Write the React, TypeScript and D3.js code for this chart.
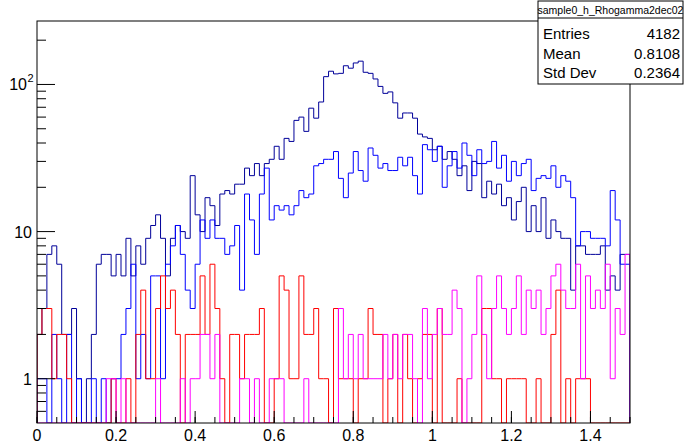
import React from 'react';
import * as d3 from 'd3';

// bin contents, 120 bins from 0 to 1.5
const navyCounts = [
  2, 3, 7, 8, 6, 2, 2, 3, 1, 0, 1, 2, 6, 7, 7, 5, 7, 5, 9, 5,
  8, 6, 9, 11, 13, 9, 5, 9, 11, 10, 9, 24, 13, 10, 17, 15, 11, 18, 19, 18,
  21, 21, 27, 24, 29, 24, 29, 31, 38, 31, 43, 41, 57, 60, 48, 69, 59, 76, 113, 123,
  118, 119, 134, 129, 140, 144, 121, 119, 109, 97, 87, 89, 75, 59, 64, 64, 59, 46, 44, 43,
  36, 38, 31, 35, 31, 24, 28, 19, 30, 29, 17, 22, 18, 21, 15, 17, 12, 16, 20, 10,
  15, 10, 17, 9, 12, 10, 9, 9, 4, 8, 8, 7, 7, 7, 8, 4, 5, 4, 7, 7,
];
const blueCounts = [
  1, 1, 0, 2, 1, 0, 2, 0, 1, 0, 0, 1, 0, 1, 0, 1, 1, 2, 3, 6,
  1, 2, 1, 5, 5, 1, 6, 8, 11, 7, 4, 3, 6, 12, 9, 12, 9, 9, 7, 8,
  11, 4, 18, 12, 7, 18, 27, 12, 15, 14, 15, 13, 15, 19, 17, 18, 28, 29, 31, 31,
  35, 23, 17, 25, 35, 26, 22, 37, 33, 27, 29, 26, 26, 32, 28, 32, 24, 18, 39, 36,
  30, 38, 20, 28, 35, 27, 40, 33, 24, 36, 29, 30, 41, 27, 33, 22, 30, 24, 29, 31,
  19, 23, 24, 23, 28, 20, 24, 22, 17, 8, 10, 10, 9, 9, 9, 8, 19, 12, 6, 6,
];
const redCounts = [
  2, 3, 3, 1, 2, 2, 1, 0, 0, 0, 0, 0, 0, 0, 0, 1, 0, 0, 1, 0,
  2, 4, 1, 1, 3, 5, 3, 4, 2, 0, 2, 2, 2, 5, 2, 6, 3, 1, 0, 2,
  2, 1, 2, 2, 2, 3, 0, 0, 1, 5, 4, 1, 1, 5, 2, 2, 3, 1, 1, 0,
  3, 1, 1, 1, 0, 1, 1, 3, 2, 2, 0, 1, 2, 0, 2, 1, 0, 1, 2, 2,
  0, 3, 0, 0, 0, 1, 0, 0, 0, 0, 3, 3, 1, 1, 0, 1, 1, 1, 1, 0,
  0, 1, 0, 0, 2, 4, 0, 1, 0, 1, 1, 1, 0, 0, 0, 0, 0, 0, 0, 0,
];
const magentaCounts = [
  0, 0, 0, 0, 0, 0, 0, 0, 0, 0, 0, 0, 0, 0, 1, 1, 0, 1, 0, 0,
  0, 0, 0, 0, 1, 0, 0, 0, 0, 1, 0, 1, 1, 2, 2, 1, 2, 0, 0, 0,
  0, 1, 1, 0, 1, 0, 0, 1, 1, 1, 0, 0, 0, 0, 1, 0, 0, 0, 0, 0,
  0, 3, 1, 2, 1, 2, 1, 1, 1, 1, 2, 1, 2, 1, 2, 2, 1, 0, 3, 1,
  2, 3, 2, 2, 4, 3, 0, 1, 2, 5, 2, 1, 3, 5, 3, 2, 3, 5, 2, 4,
  3, 4, 2, 3, 5, 6, 4, 3, 3, 6, 1, 5, 3, 4, 3, 6, 1, 3, 2, 7,
];

const xTickValues = [0, 0.2, 0.4, 0.6, 0.8, 1, 1.2, 1.4];
const xTickLabels = ['0', '0.2', '0.4', '0.6', '0.8', '1', '1.2', '1.4'];
const yMajorTicks = [1, 10, 100];
const yMinorTicks = [0.6, 0.7, 0.8, 0.9, 2, 3, 4, 5, 6, 7, 8, 9, 20, 30, 40, 50, 60, 70, 80, 90, 200];

const statTitle = 'sample0_h_Rhogamma2dec02';
const statRows = [
  ['Entries', '4182'],
  ['Mean', '0.8108'],
  ['Std Dev', '0.2364'],
];

const series = [
  { counts: navyCounts, color: '#000099' },
  { counts: blueCounts, color: '#0000ff' },
  { counts: redCounts, color: '#ff0000' },
  { counts: magentaCounts, color: '#ff00ff' },
];

const X_MIN = 0;
const X_MAX = 1.5;
const Y_MIN = 0.5;
const Y_MAX = 270;

const W = 684;
const H = 443;
const L = 37, R = 630, T = 21, B = 423;
const font = 'Liberation Sans, Arial, Helvetica, sans-serif';

const App = () => {
  const x = d3.scaleLinear().domain([X_MIN, X_MAX]).range([L, R]);
  const y = d3.scaleLog().domain([Y_MIN, Y_MAX]).range([B, T]).clamp(true);

  const line = d3
    .line<[number, number]>()
    .x(d => x(d[0]))
    .y(d => y(d[1]))
    .curve(d3.curveStepAfter);

  const histPath = (counts: number[]) => {
    const bw = (X_MAX - X_MIN) / counts.length;
    const pts: [number, number][] = [[X_MIN, Y_MIN]];
    counts.forEach((c, i) => pts.push([X_MIN + i * bw, Math.max(c, Y_MIN)]));
    pts.push([X_MAX, Math.max(counts[counts.length - 1], Y_MIN)]);
    pts.push([X_MAX, Y_MIN]);
    return line(pts) || '';
  };

  const xMinor = d3.range(X_MIN, X_MAX + 1e-9, 0.05);

  return (
    <svg
      width={W}
      height={H}
      style={{ position: 'absolute', left: 0, top: 0, background: '#fff' }}
      fontFamily={font}
    >
      <rect x={0} y={0} width={W} height={H} fill="#fff" />
      <defs>
        <clipPath id="frame">
          <rect x={L} y={T} width={R - L} height={B - T} />
        </clipPath>
      </defs>

      <g clipPath="url(#frame)" fill="none" strokeWidth={1}>
        {series.map((s, i) => (
          <path key={i} d={histPath(s.counts)} stroke={s.color} />
        ))}
      </g>

      {/* x ticks */}
      <g stroke="#000" strokeWidth={1}>
        {xMinor.map((v, i) => (
          <line key={'xm' + i} x1={x(v)} x2={x(v)} y1={B} y2={B - 6} />
        ))}
        {xTickValues.map((v, i) => (
          <line key={'xM' + i} x1={x(v)} x2={x(v)} y1={B} y2={B - 12} />
        ))}
        {yMinorTicks.map((v, i) => (
          <line key={'ym' + i} x1={L} x2={L + 9} y1={y(v)} y2={y(v)} />
        ))}
        {yMajorTicks.map((v, i) => (
          <line key={'yM' + i} x1={L} x2={L + 18} y1={y(v)} y2={y(v)} />
        ))}
      </g>

      <rect x={L} y={T} width={R - L} height={B - T} fill="none" stroke="#000" strokeWidth={1} />

      {xTickValues.map((v, i) => (
        <text key={'xl' + i} x={x(v)} y={441} fontSize={16} textAnchor="middle">
          {xTickLabels[i]}
        </text>
      ))}

      <text x={32} y={y(1) + 6} fontSize={16} textAnchor="end">1</text>
      <text x={32} y={y(10) + 6} fontSize={16} textAnchor="end">10</text>
      <text x={27} y={y(100) + 6} fontSize={16} textAnchor="end">10</text>
      <text x={27.5} y={y(100) - 2} fontSize={11}>2</text>

      {/* stat box */}
      <g>
        <rect x={538} y={1} width={145} height={83} fill="#fff" stroke="#000" strokeWidth={1} />
        <line x1={538} x2={683} y1={18} y2={18} stroke="#000" />
        <text x={610.5} y={13.5} fontSize={10.5} textAnchor="middle">{statTitle}</text>
        {statRows.map((r, i) => (
          <g key={r[0]}>
            <text x={543} y={39 + i * 19.5} fontSize={15}>{r[0]}</text>
            <text x={680} y={39 + i * 19.5} fontSize={15} textAnchor="end">{r[1]}</text>
          </g>
        ))}
      </g>
    </svg>
  );
};

export default App;
